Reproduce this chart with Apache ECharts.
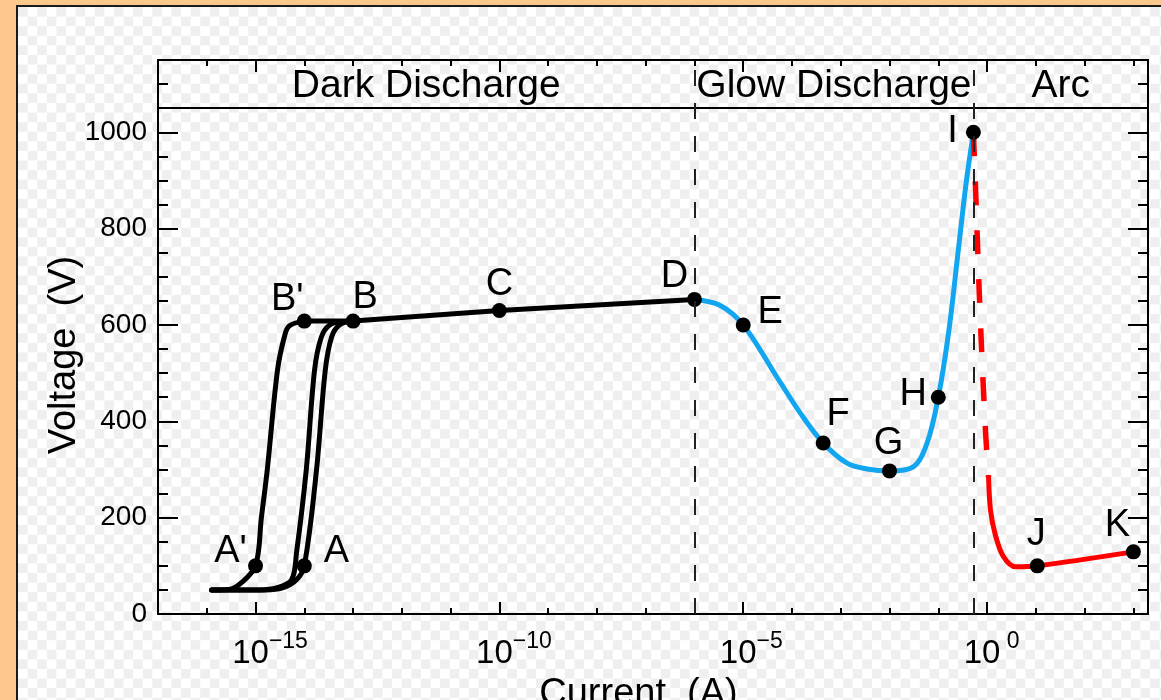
<!DOCTYPE html>
<html><head><meta charset="utf-8">
<script src="https://cdn.jsdelivr.net/npm/echarts@6/dist/echarts.min.js"></script>
<style>
html,body{margin:0;padding:0;width:1161px;height:700px;overflow:hidden;background:#fcc88b;}
#paper{position:absolute;left:16px;top:5px;right:0;bottom:0;border-left:2px solid #1a1a1a;border-top:2px solid #1a1a1a;
background:repeating-conic-gradient(#ffffff 0 25%, #efefef 0 50%) 0 0 / 19.2px 19.2px;}
#chart{position:absolute;left:0;top:0;width:1161px;height:700px;}
</style></head><body><div id="paper"></div><div id="chart"></div>
<script>
// ---------- axes (x is log10 of current in A) ----------
const X_MIN = -17, X_MAX = 3.3;
const Y_MIN = 0, Y_MAX = 1150;
const xMajorExponents = [-15, -10, -5, 0];
const yLabelValues = [0, 200, 400, 600, 800, 1000];

// ---------- regions ----------
const regionNames = ['Dark Discharge', 'Glow Discharge', 'Arc'];
const regionBounds = [-17, -6, -0.28, 3.3];
const headerLineV = 1050;

// ---------- Townsend curves (log10 I, V) ----------
const curveAPrimeLogI = [-15.9, -15.55, -15.3, -15.0, -14.88, -14.76, -14.55, -14.41, -14.31, -14.0];
const curveAPrimeV    = [50, 51, 64, 100, 200, 299, 506, 575, 598, 608];
const curveMidLogI = [-15.9, -14.92, -14.57, -14.26, -14.16, -13.96, -13.79, -13.65, -13.48, -13.22];
const curveMidV    = [50, 50, 54, 71, 127, 299, 506, 575, 600, 607];
const curveALogI = [-15.9, -14.8, -14.45, -14.16, -14.0, -13.75, -13.57, -13.44, -13.28, -13.0];
const curveAV    = [50, 50, 54, 71, 100, 299, 506, 575, 600, 608];
const darkLogI = [-14, -13, -10, -6];
const darkV    = [608, 608, 630, 653];

// ---------- glow discharge ----------
const glowLogI = [-6, -5.48, -5.0, -4.31, -3.83, -3.36, -2.87, -2.46, -2.0, -1.52, -1.23, -1.0, -0.79, -0.59, -0.43, -0.28];
const glowV    = [653, 641, 600, 492, 417, 355, 313, 301, 297, 305, 355, 450, 583, 755, 894, 1000];

// ---------- glow-to-arc transition (dashed) and arc ----------
const transitionLogI = [-0.28, -0.24, -0.14, -0.03, 0.03];
const transitionV    = [1000, 894, 616, 376, 284];
const arcLogI = [0.03, 0.07, 0.17, 0.33, 0.58, 1.03, 3.0];
const arcV    = [284, 216, 164, 120, 98, 100, 129];

// ---------- labelled points ----------
const pointNames = ["A'", 'A', "B'", 'B', 'C', 'D', 'E', 'F', 'G', 'H', 'I', 'J', 'K'];
const pointLogI  = [-15, -14, -14, -13, -10, -6, -5, -3.36, -2, -1.0, -0.28, 1.03, 3.0];
const pointV     = [100, 100, 608, 608, 630, 653, 600, 355, 297, 450, 1000, 100, 129];

// layout only: label offsets (px) relative to each point
const labelOffsets = {
  "A'": [-25, -14], 'A': [32, -14], "B'": [-17, -22], 'B': [12, -24], 'C': [0, -26],
  'D': [-20, -23], 'E': [27, -12], 'F': [15, -28], 'G': [-1, -27], 'H': [-25, -3],
  'I': [-21, -1], 'J': [-1, -31], 'K': [-16, -26]
};

const zip = (a, b) => a.map((v, i) => [v, b[i]]);
const FONT = '"Liberation Sans", Arial, sans-serif';
const INK = '#000';

function xAxisDef(pos, major, withLabels) {
  return {
    type: 'value', position: pos, min: X_MIN, max: X_MAX, interval: 1,
    axisLine: { show: !major, onZero: false, lineStyle: { color: INK, width: 2 } },
    axisTick: major
      ? { show: true, inside: true, length: 12, customValues: xMajorExponents, lineStyle: { color: INK, width: 2 } }
      : { show: true, inside: true, length: 6, lineStyle: { color: INK, width: 2 } },
    axisLabel: withLabels ? {
      show: true, customValues: xMajorExponents, margin: 16,
      formatter: v => '{p| }{b|10}{s|' + (v === 0 ? ' 0' : '\u2212' + Math.abs(v)) + '}',
      rich: {
        p: { width: 34, fontSize: 10, align: 'left' },
        b: { fontSize: 33, fontFamily: FONT, color: INK, lineHeight: 40, verticalAlign: 'bottom', align: 'left' },
        s: { fontSize: 23, fontFamily: FONT, color: INK, lineHeight: 14, verticalAlign: 'top', width: 44, align: 'left' }
      }
    } : { show: false },
    splitLine: { show: false },
    name: withLabels ? 'Current  (A)' : '',
    nameLocation: 'middle', nameGap: 62, nameMoveOverlap: false,
    nameTextStyle: { fontSize: 38, fontFamily: FONT, color: INK, padding: [0, 29, 0, 0] }
  };
}
function yAxisDef(pos, major, withLabels) {
  return {
    type: 'value', position: pos, min: Y_MIN, max: Y_MAX, interval: 50,
    axisLine: { show: !major, onZero: false, lineStyle: { color: INK, width: 2 } },
    axisTick: major
      ? { show: true, inside: true, length: 20, customValues: yLabelValues, lineStyle: { color: INK, width: 2 } }
      : { show: true, inside: true, length: 10, lineStyle: { color: INK, width: 2 } },
    axisLabel: withLabels ? { show: true, customValues: yLabelValues, margin: 11, fontSize: 28, fontFamily: FONT, color: INK, formatter: v => String(v) } : { show: false },
    splitLine: { show: false },
    name: withLabels ? 'Voltage  (V)' : '',
    nameLocation: 'middle', nameGap: 74, nameMoveOverlap: false,
    nameTextStyle: { fontSize: 38, fontFamily: FONT, color: INK, padding: [0, 36, 0, 0] }
  };
}

const lineSeries = (name, data, color, opts) => Object.assign({
  type: 'line', name, data, symbol: 'none', smooth: 0.35, silent: true, z: 2,
  lineStyle: { color, width: 5, cap: 'round', join: 'round' }
}, opts || {});

const chart = echarts.init(document.getElementById('chart'), null, { renderer: 'canvas' });
chart.setOption({
  animation: false,
  backgroundColor: 'transparent',
  textStyle: { fontFamily: FONT },
  grid: { left: 158, right: 13, top: 60, bottom: 86, containLabel: false, outerBoundsMode: 'none' },
  xAxis: [xAxisDef('bottom', false, true), xAxisDef('bottom', true, false), xAxisDef('top', false, false), xAxisDef('top', true, false)],
  yAxis: [yAxisDef('left', false, true), yAxisDef('left', true, false), yAxisDef('right', false, false), yAxisDef('right', true, false)],
  series: [
    {
      type: 'line', name: 'guides', data: [], silent: true, z: 1,
      markLine: {
        silent: true, symbol: ['none', 'none'], label: { show: false }, animation: false,
        data: [
          { yAxis: headerLineV, lineStyle: { type: 'solid', color: INK, width: 2 } },
          { xAxis: regionBounds[1], lineStyle: { type: [16, 17], color: '#222', width: 2 } },
          { xAxis: regionBounds[2], lineStyle: { type: [16, 17], color: '#222', width: 2 } }
        ]
      }
    },
    lineSeries("A'-B'", zip(curveAPrimeLogI, curveAPrimeV), '#000'),
    lineSeries('mid', zip(curveMidLogI, curveMidV), '#000'),
    lineSeries('A-B', zip(curveALogI, curveAV), '#000'),
    lineSeries('dark', zip(darkLogI, darkV), '#000', { smooth: false }),
    lineSeries('glow', zip(glowLogI, glowV), '#13a6f0'),
    lineSeries('transition', zip(transitionLogI, transitionV), '#ff0000', { lineStyle: { color: '#ff0000', width: 5.5, type: [24, 25], cap: 'butt' } }),
    lineSeries('arc', zip(arcLogI, arcV), '#ff0000', { smooth: 0.3 }),
    {
      type: 'scatter', name: 'points', silent: true, z: 4, symbol: 'circle', symbolSize: 15,
      itemStyle: { color: '#000', opacity: 1 },
      label: { show: true, position: 'inside', formatter: '{b}', fontSize: 38, fontFamily: FONT, color: '#000', opacity: 1 },
      data: pointNames.map((n, i) => ({ name: n, value: [pointLogI[i], pointV[i]], label: { offset: labelOffsets[n] } }))
    },
    {
      type: 'scatter', name: 'regions', silent: true, z: 4, symbolSize: 1,
      itemStyle: { color: 'rgba(0,0,0,0)', opacity: 1 },
      label: { show: true, position: 'inside', formatter: '{b}', fontSize: 39, fontFamily: FONT, color: '#000', opacity: 1, offset: [0, 2] },
      data: regionNames.map((n, i) => ({ name: n, value: [(regionBounds[i] + regionBounds[i + 1]) / 2, (headerLineV + Y_MAX) / 2] }))
    }
  ]
});
</script></body></html>
